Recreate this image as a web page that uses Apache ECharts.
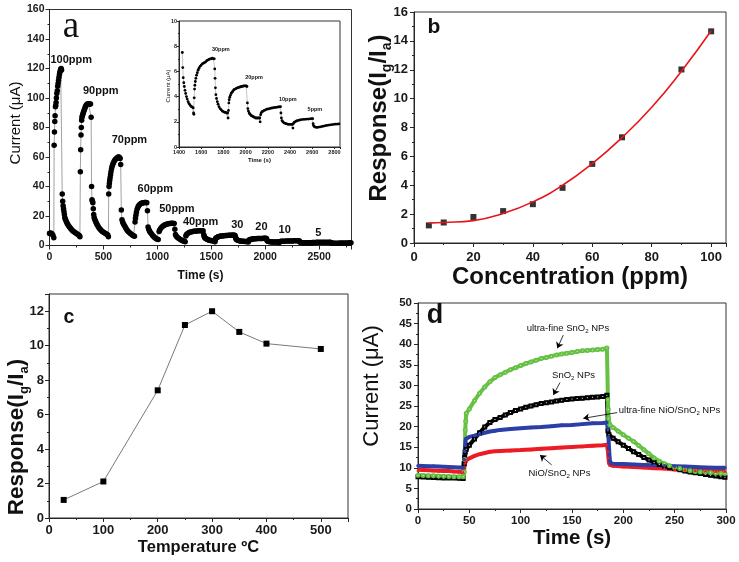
<!DOCTYPE html>
<html><head><meta charset="utf-8">
<script src="https://cdn.jsdelivr.net/npm/echarts@6/dist/echarts.min.js"></script>
<style>html,body{margin:0;padding:0;background:#fff}#chart{width:739px;height:562px}</style>
</head><body><div id="chart"></div>
<script>
// ---------- Panel a: current vs time (time s, current µA) ----------
const sensingCurrent = [
 [0,8.2],[8,8.5],[16,8.3],[24,7.8],[32,7],[40,5.2],
 [43,68],[46,77],[49,84],[52,88],[55,94],[58,95],[61,97],[64,100],[68,103],[72,105],[76,108],[80,110],[84,112],[88,114],[92,116],[96,117.5],[100,118.5],[104,119.5],[108,120],[112,119],
 [118,35],[122,30],[126,27],[130,25],[134,23],[138,21],[142,19],[146,18],[152,17],[158,16],[164,15],[170,14.2],[178,13.3],[186,12.5],[194,11.7],[202,11],[210,10.4],[220,9.7],[230,9.1],[240,8.6],[250,8.1],[260,7.6],[270,7.1],[278,6.6],[282,6],
 [286,50],[289,65],[292,75],[295,80],[298,85],[301,87],[305,88],[309,89],[313,90],[318,91],[323,92],[328,93],[333,94],[338,95],[344,95.5],[350,96],[356,96],[362,96],[368,96],[374,96],[380,96],
 [386,87],[390,40],[394,31],[398,30],[402,29],[406,25],[410,21],[414,19],[418,18],[424,17],[430,16],[436,15],[442,14],[450,13],[458,12],[466,11.3],[474,10.6],[482,10],[492,9.4],[502,8.9],[512,8.4],[522,8],[532,7.6],[540,7.2],[546,6],
 [549,35],[552,40],[555,42],[558,44],[562,46],[566,48],[570,50],[575,52],[580,53.5],[586,55],[592,56],[598,57],[605,57.8],[612,58.5],[620,59],[628,59.5],[636,60],[644,60],[650,59.5],[655,59],
 [660,55],[666,24],[672,17.5],[678,16],[684,15],[690,14],[698,13],[706,12],[714,11],[722,10.2],[730,9.5],[740,8.8],[750,8.2],[760,7.6],[770,7],[780,6.6],[788,6.2],
 [793,16],[797,18.5],[801,20.5],[806,22.5],[812,24.5],[818,25.8],[825,26.8],[832,27.5],[840,28],[848,28.4],[856,28.7],[864,29],[872,29],[880,29.2],[888,29.2],[896,29.2],[902,29],
 [908,23.5],[914,12.5],[920,11],[926,10],[932,9.2],[940,8.4],[948,7.6],[956,6.8],[964,6.2],[972,5.6],[980,5.1],[990,4.6],[1000,4.3],[1008,4],
 [1016,9.5],[1022,10.5],[1030,11.5],[1040,12.3],[1050,13],[1060,13.5],[1070,14],[1080,14.3],[1090,14.6],[1100,14.8],[1110,15],[1120,15],[1130,15.1],[1140,15.1],[1150,15],[1156,15],
 [1162,11],[1168,7.5],[1174,6.5],[1182,5.8],[1190,5.2],[1200,4.7],[1210,4.2],[1220,3.8],[1230,3.4],[1240,3.1],[1250,2.8],[1258,2.6],
 [1264,6.5],[1270,7.5],[1278,8],[1288,8.5],[1298,8.9],[1310,9.2],[1322,9.4],[1334,9.6],[1346,9.7],[1358,9.8],[1370,9.9],[1382,10],[1394,10],[1406,10],[1416,10],[1424,10],
 [1430,7.5],[1434,6.3],[1438,5.5],[1443,5.1],[1448,4.8],[1454,4.5],[1460,4.25],[1467,4],[1474,3.8],[1482,3.6],[1490,3.45],[1498,3.35],[1506,3.25],[1514,3.2],[1522,3.15],[1528,3.1],[1531,2.7],[1534,2.6],
 [1537,3.9],[1540,4.6],[1543,4.9],[1547,5.2],[1552,5.45],[1558,5.7],[1565,5.9],[1572,6.1],[1580,6.25],[1590,6.4],[1600,6.5],[1610,6.6],[1620,6.65],[1630,6.7],[1640,6.75],[1650,6.85],[1660,6.9],[1670,6.95],[1680,7],[1690,7],[1700,7.05],[1710,7],[1718,7],
 [1722,6.2],[1725,5.45],[1728,4.7],[1732,4.15],[1738,3.85],[1745,3.6],[1752,3.4],[1760,3.2],[1770,3.05],[1780,2.95],[1790,2.85],[1800,2.8],[1810,2.75],[1820,2.75],[1830,2.7],[1838,2.7],[1842,2.3],
 [1846,2.9],[1849,3.5],[1852,3.75],[1857,3.95],[1863,4.1],[1870,4.25],[1878,4.35],[1886,4.45],[1895,4.55],[1905,4.6],[1915,4.65],[1925,4.7],[1935,4.72],[1945,4.75],[1955,4.78],[1965,4.8],[1975,4.82],[1985,4.85],[1995,4.85],[2005,4.85],[2012,4.8],
 [2016,3.5],[2020,3.05],[2025,2.85],[2032,2.7],[2040,2.6],[2050,2.5],[2060,2.45],[2070,2.4],[2080,2.35],[2090,2.3],[2100,2.3],[2110,2.3],[2120,2.3],[2127,2.3],[2131,2.0],
 [2135,2.55],[2140,2.7],[2148,2.8],[2158,2.85],[2168,2.9],[2180,2.95],[2192,3.0],[2205,3.02],[2218,3.05],[2230,3.08],[2242,3.1],[2255,3.12],[2268,3.15],[2280,3.15],[2292,3.18],[2304,3.18],[2314,3.2],
 [2318,2.7],[2322,2.3],[2328,2.1],[2335,2.0],[2345,1.92],[2355,1.88],[2365,1.85],[2375,1.82],[2385,1.8],[2395,1.8],[2405,1.8],[2415,1.8],[2422,1.8],[2426,1.5],
 [2430,1.85],[2436,1.95],[2445,2.0],[2455,2.05],[2465,2.1],[2478,2.12],[2490,2.15],[2505,2.18],[2520,2.2],[2535,2.2],[2550,2.22],[2565,2.22],[2580,2.24],[2595,2.25],[2604,2.25],
 [2608,1.85],[2612,1.7],[2618,1.62],[2626,1.58],[2636,1.56],[2648,1.56],[2660,1.58],[2675,1.6],[2690,1.63],[2705,1.66],[2720,1.69],[2735,1.72],[2750,1.74],[2765,1.76],[2780,1.78],[2795,1.8],[2810,1.81],[2825,1.82],[2840,1.83]
];
const insetStartTime = 1430;
const labelsA = [['100ppm',201,125.5],['90ppm',475,105],['70ppm',741,71.4],['60ppm',981,38.3],['50ppm',1181,24.6],['40ppm',1401,16.2],['30',1741,13.8],['20',1965,12.4],['10',2181,10.6],['5',2493,8.4]];
const labelsInset = [['30ppm',1777,7.7],['20ppm',2076,5.5],['10ppm',2380,3.8],['5ppm',2624,3.0]];

// ---------- Panel b: response vs concentration ----------
const concB = [5,10,20,30,40,50,60,70,90,100];
const respB = [1.22,1.42,1.8,2.21,2.69,3.82,5.48,7.32,12.02,14.66];
const fitConcB = [5,10,20,30,40,50,60,70,80,90,100];
const fitRespB = [1.38,1.42,1.55,2.05,2.85,4.0,5.5,7.3,9.4,11.9,14.7];

// ---------- Panel c: response vs temperature ----------
const tempC = [27,100,200,250,300,350,400,500];
const respC = [1.05,2.12,7.41,11.2,12.0,10.8,10.12,9.81];

// ---------- Panel d: current vs time for four materials ----------
const dSnO2 = [[0,7.8],[5,7.75],[10,7.7],[15,7.65],[20,7.6],[25,7.55],[30,7.5],[35,7.5],[40,7.45],[44,7.4],[45,11],[45.5,12.5],[46,13.8],[47,14.5],[50,15.5],[55,17],[60,18.5],[65,19.9],[70,21],[75,21.7],[80,22.2],[85,22.8],[90,23.4],[95,23.9],[100,24.3],[105,24.7],[110,25],[115,25.3],[120,25.6],[125,25.8],[130,26],[135,26.2],[140,26.4],[145,26.6],[150,26.7],[155,26.8],[160,26.9],[165,27],[170,27.1],[175,27.2],[180,27.3],[184,27.6],[185,19],[186,18],[190,17.2],[195,16.3],[200,15.5],[205,14.7],[210,13.9],[215,13.2],[220,12.5],[225,11.9],[230,11.3],[235,10.8],[240,10.4],[245,10.1],[250,9.8],[255,9.5],[260,9.2],[265,9],[270,8.8],[275,8.6],[280,8.4],[285,8.2],[290,8],[295,7.8],[299,7.7]];
const dUltraSnO2 = [[0,8.2],[5,8.15],[10,8.1],[15,8.05],[20,8.0],[25,7.95],[30,7.9],[35,7.85],[40,7.8],[44,7.8],[45,9],[45.5,12],[46,19.2],[46.5,21.3],[47,23.2],[50,24.3],[55,26.3],[60,28.1],[65,29.6],[70,30.9],[75,31.9],[80,32.6],[85,33.2],[90,33.8],[95,34.3],[100,34.8],[105,35.3],[110,35.7],[115,36.1],[120,36.5],[125,36.8],[130,37.1],[135,37.4],[140,37.6],[145,37.8],[150,38.0],[155,38.2],[160,38.4],[165,38.5],[170,38.6],[175,38.7],[180,38.8],[184,39.1],[185,26.5],[185.3,24.2],[185.6,22],[186,21],[187,20.4],[190,19.8],[195,18.9],[200,18.0],[205,17.2],[210,16.4],[215,15.4],[220,14.4],[225,13.4],[230,12.4],[235,11.6],[240,11.0],[245,10.5],[250,10.1],[255,9.8],[260,9.5],[265,9.3],[270,9.1],[275,9.0],[280,8.9],[285,8.8],[290,8.7],[295,8.6],[299,8.6]];
const dNiOSnO2 = [[0,9.5],[5,9.45],[10,9.4],[15,9.35],[20,9.3],[25,9.25],[30,9.2],[35,9.1],[40,9.05],[44,9],[45,10.3],[46,11.2],[47,11.8],[50,12.3],[55,12.9],[60,13.3],[65,13.6],[70,13.9],[75,14],[80,14.1],[90,14.2],[100,14.3],[110,14.45],[120,14.6],[130,14.75],[140,14.9],[150,15.05],[160,15.2],[170,15.35],[180,15.5],[184,15.6],[185,14],[185.5,12.5],[186,11.2],[187,10.7],[190,10.5],[200,10.3],[210,10.2],[220,10.1],[230,9.9],[240,9.8],[250,9.6],[260,9.5],[270,9.4],[280,9.3],[290,9.2],[299,9.2]];
const dUltraNiOSnO2 = [[0,10.5],[5,10.45],[10,10.4],[15,10.35],[20,10.3],[25,10.25],[30,10.2],[35,10.15],[40,10.1],[44,10.1],[45,12],[45.5,14],[46,15.5],[46.5,17],[50,17.5],[55,17.8],[60,18.2],[65,18.5],[70,18.8],[75,19],[80,19.2],[90,19.4],[100,19.6],[110,19.8],[120,19.9],[130,20.1],[140,20.3],[150,20.4],[160,20.6],[170,20.8],[180,20.9],[184,21],[185,19.5],[185.5,17.5],[186,15],[186.5,13],[187,11.6],[188,11.1],[190,11],[200,10.9],[210,10.8],[220,10.7],[230,10.6],[240,10.5],[250,10.4],[260,10.3],[270,10.2],[280,10.1],[290,10],[299,10]];
// annotation text (data coords) and arrows [from, to]
const labelsD = [['ultra-fine SnO{s|2} NPs',146,43.9],['SnO{s|2} NPs',151.5,32.5],['ultra-fine NiO/SnO{s|2} NPs',245,24.0],['NiO/SnO{s|2} NPs',137.8,8.7]];
const arrowsD = [[[141.5,42.2],[135.7,39.0]],[[138.3,30.7],[131.8,27.7]],[[194.1,23.4],[161,22.0]],[[130.2,10.7],[118.8,13.1]]];

const FONT = 'Liberation Sans, Arial, sans-serif';
const AX = '#262626';

function axis(o) {
  const a = {
    type: 'value', gridIndex: o.grid, min: o.min, max: o.max, interval: o.interval,
    position: o.pos,
    axisLine: {show: true, onZero: false, lineStyle: {color: AX, width: 1}},
    axisTick: {show: true, length: o.tick || 4, lineStyle: {color: AX, width: 1}},
    minorTick: {show: true, splitNumber: 2, length: o.minor || 2, lineStyle: {color: AX, width: 1}},
    splitLine: {show: false},
    axisLabel: {color: '#1a1a1a', fontFamily: FONT, fontWeight: o.weight || 'bold', fontSize: o.size, margin: o.margin,
      showMaxLabel: o.hideMax ? false : true, showMinLabel: true, formatter: v => String(v)},
  };
  if (o.name) {
    a.name = o.name; a.nameLocation = 'middle'; a.nameGap = o.nameGap;
    a.nameTextStyle = {fontFamily: FONT, fontWeight: o.nameWeight || 'bold', fontSize: o.nameSize, color: '#111'};
  }
  return a;
}

const gridBox = {show: true, borderColor: '#333', borderWidth: 1, backgroundColor: 'transparent'};
const option = {
  animation: false,
  backgroundColor: '#fff',
  grid: [
    Object.assign({left: 49.5, top: 9.5, width: 302, height: 236}, gridBox),
    Object.assign({left: 179, top: 21, width: 161, height: 126}, gridBox),
    Object.assign({left: 414, top: 12, width: 312, height: 231}, gridBox),
    Object.assign({left: 49, top: 294, width: 299, height: 224}, gridBox),
    Object.assign({left: 418, top: 303, width: 308, height: 206}, gridBox)
  ],
  xAxis: [
    axis({grid: 0, pos: 'bottom', min: 0, max: 2800, interval: 500, size: 10.5, margin: 6, hideMax: true, name: 'Time (s)', nameGap: 24, nameSize: 12}),
    axis({grid: 1, pos: 'bottom', min: 1400, max: 2850, interval: 200, size: 5.5, margin: 2, tick: 2, minor: 1, hideMax: true, name: 'Time (s)', nameGap: 10, nameSize: 6}),
    axis({grid: 2, pos: 'bottom', min: 0, max: 105, interval: 20, size: 13, margin: 8, hideMax: true, name: 'Concentration (ppm)', nameGap: 21, nameSize: 24}),
    axis({grid: 3, pos: 'bottom', min: 0, max: 550, interval: 100, size: 13, margin: 6, hideMax: true, name: 'Temperature ºC', nameGap: 21, nameSize: 16.5}),
    axis({grid: 4, pos: 'bottom', min: 0, max: 300, interval: 50, size: 11.5, margin: 6, name: 'Time (s)', nameGap: 17, nameSize: 20.5})
  ],
  yAxis: [
    axis({grid: 0, pos: 'left', min: 0, max: 160, interval: 20, size: 10.5, margin: 5}),
    axis({grid: 1, pos: 'left', min: 0, max: 10, interval: 2, size: 5.5, margin: 2, tick: 2, minor: 1}),
    axis({grid: 2, pos: 'left', min: 0, max: 16, interval: 2, size: 13, margin: 6}),
    axis({grid: 3, pos: 'left', min: 0, max: 13, interval: 2, size: 13, margin: 5, hideMax: true}),
    axis({grid: 4, pos: 'left', min: 0, max: 50, interval: 5, size: 11.5, margin: 6})
  ],
  series: [
    {type: 'line', xAxisIndex: 0, yAxisIndex: 0, data: sensingCurrent, symbol: 'circle', symbolSize: 5.5, clip: true,
     itemStyle: {color: '#000'}, lineStyle: {color: '#8a8a8a', width: 0.8}},
    {type: 'line', xAxisIndex: 1, yAxisIndex: 1, data: sensingCurrent.filter(p => p[0] >= insetStartTime), symbol: 'circle', symbolSize: 2.8, clip: true,
     itemStyle: {color: '#000'}, lineStyle: {color: '#8a8a8a', width: 0.5}},
    {type: 'line', xAxisIndex: 2, yAxisIndex: 2, data: fitConcB.map((c, i) => [c, fitRespB[i]]), smooth: true, showSymbol: false,
     lineStyle: {color: '#e8141c', width: 1.6}},
    {type: 'scatter', xAxisIndex: 2, yAxisIndex: 2, data: concB.map((c, i) => [c, respB[i]]), symbol: 'rect', symbolSize: 6,
     itemStyle: {color: '#000'}},
    {type: 'line', xAxisIndex: 3, yAxisIndex: 3, data: tempC.map((t, i) => [t, respC[i]]), symbol: 'rect', symbolSize: 6,
     itemStyle: {color: '#000'}, lineStyle: {color: '#7a7a7a', width: 1}},
    {type: 'line', xAxisIndex: 4, yAxisIndex: 4, data: dSnO2, symbol: 'emptyRect', symbolSize: 3,
     itemStyle: {color: '#000', borderWidth: 0.8}, lineStyle: {color: '#000', width: 4},
     markLine: {silent: true, symbol: ['none', 'arrow'], symbolSize: 6, animation: false,
       lineStyle: {color: '#000', width: 0.8, type: 'solid'}, label: {show: false}, emphasis: {disabled: true},
       data: arrowsD.map(a => [{coord: a[0]}, {coord: a[1]}])}},
    {type: 'line', xAxisIndex: 4, yAxisIndex: 4, data: dUltraSnO2, symbol: 'emptyCircle', symbolSize: 3,
     itemStyle: {color: '#66c144', borderWidth: 0.8}, lineStyle: {color: '#66c144', width: 4}},
    {type: 'line', xAxisIndex: 4, yAxisIndex: 4, data: dNiOSnO2, symbol: 'triangle', symbolSize: 3.5,
     itemStyle: {color: '#ec1c24'}, lineStyle: {color: '#ec1c24', width: 4}},
    {type: 'line', xAxisIndex: 4, yAxisIndex: 4, data: dUltraNiOSnO2, symbol: 'circle', symbolSize: 3.5,
     itemStyle: {color: '#2b3fa6'}, lineStyle: {color: '#2b3fa6', width: 4}}
  ]
};

const chart = echarts.init(document.getElementById('chart'), null, {renderer: 'canvas'});
chart.setOption(option);

function txt(x, y, text, size, weight, extra) {
  const st = Object.assign({text: text, x: 0, y: 0, fontSize: size, fontWeight: weight, fontFamily: FONT, fill: '#111',
    align: 'center', textAlign: 'center', verticalAlign: 'middle', textVerticalAlign: 'middle'}, (extra && extra.style) || {});
  const el = {type: 'text', x: x, y: y, silent: true, style: st, z: 100};
  if (extra && extra.rotation) el.rotation = extra.rotation;
  return el;
}
const subRich = (size) => ({s: {fontSize: size, fontWeight: 'bold', fontFamily: FONT, fill: '#111', padding: [Math.round(size * 1.15), 0, 0, 0]}});
const subRichN = (size) => ({s: {fontSize: size, fontWeight: 'normal', fontFamily: FONT, fill: '#111', padding: [Math.round(size * 1.2), 0, 0, 0]}});

const graphics = [];
// panel letters
graphics.push(txt(71, 27, 'a', 37, 'normal', {style: {fontFamily: 'Liberation Serif, Times New Roman, serif'}}));
graphics.push(txt(434, 27, 'b', 21, 'bold'));
graphics.push(txt(69, 317.5, 'c', 19.5, 'bold'));
graphics.push(txt(435, 316, 'd', 27, 'bold'));
// rotated y-axis titles
graphics.push(txt(15.5, 123, 'Current (μA)', 15, 'normal', {rotation: Math.PI / 2}));
graphics.push(txt(168, 86, 'Current (μA)', 6, 'normal', {rotation: Math.PI / 2}));
graphics.push(txt(379, 118, 'Response(I{s|g}/I{s|a})', 24, 'bold', {rotation: Math.PI / 2, style: {rich: subRich(14)}}));
graphics.push(txt(17, 437, 'Response(I{s|g}/I{s|a})', 22.5, 'bold', {rotation: Math.PI / 2, style: {rich: subRich(13)}}));
graphics.push(txt(372, 386, 'Current (μA)', 22, 'normal', {rotation: Math.PI / 2}));
// panel a labels
labelsA.forEach(l => { const p = chart.convertToPixel({gridIndex: 0}, [l[1], l[2]]); graphics.push(txt(p[0], p[1], l[0], 11, 'bold')); });
labelsInset.forEach(l => { const p = chart.convertToPixel({gridIndex: 1}, [l[1], l[2]]); graphics.push(txt(p[0], p[1], l[0], 5.5, 'bold')); });
// panel d labels
labelsD.forEach(l => { const p = chart.convertToPixel({gridIndex: 4}, [l[1], l[2]]); graphics.push(txt(p[0], p[1], l[0], 9.5, 'normal', {style: {rich: subRichN(6)}})); });

chart.setOption({graphic: graphics});
</script></body></html>
